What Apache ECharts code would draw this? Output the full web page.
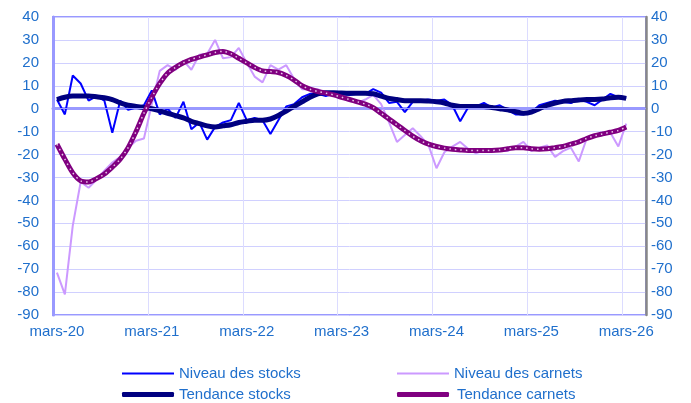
<!DOCTYPE html>
<html><head><meta charset="utf-8">
<script src="https://cdn.jsdelivr.net/npm/echarts@6/dist/echarts.min.js"></script>
<style>html,body{margin:0;padding:0;background:#fff}#c{width:691px;height:403px}</style>
</head><body><div id="c"></div>
<script>
const categories = [
 'mars-20','avr.-20','mai-20','juin-20','juil.-20','août-20','sept.-20','oct.-20','nov.-20','déc.-20','janv.-21','févr.-21',
 'mars-21','avr.-21','mai-21','juin-21','juil.-21','août-21','sept.-21','oct.-21','nov.-21','déc.-21','janv.-22','févr.-22',
 'mars-22','avr.-22','mai-22','juin-22','juil.-22','août-22','sept.-22','oct.-22','nov.-22','déc.-22','janv.-23','févr.-23',
 'mars-23','avr.-23','mai-23','juin-23','juil.-23','août-23','sept.-23','oct.-23','nov.-23','déc.-23','janv.-24','févr.-24',
 'mars-24','avr.-24','mai-24','juin-24','juil.-24','août-24','sept.-24','oct.-24','nov.-24','déc.-24','janv.-25','févr.-25',
 'mars-25','avr.-25','mai-25','juin-25','juil.-25','août-25','sept.-25','oct.-25','nov.-25','déc.-25','janv.-26','févr.-26',
 'mars-26','avr.-26','mai-26'
];
const niveauStocks = [4,-2.5,14.5,11,3.5,5.5,3.5,-10.5,3.5,-0.5,0.5,1.5,
 8,-2.5,0,-4,3,-9,-6,-13.5,-8,-6,-5,2.5,
 -5,-4,-5,-11,-5,1,2,5,6.5,6.5,5.5,6.5,
 6.5,6,6.5,6.5,8.5,7,2.5,3,-1.5,3,3.5,4,
 3.5,4,1.5,-5.5,0.5,1,2.5,0.5,1.5,-0.5,-2.5,-2.5,
 -1.5,1.5,2.5,3.5,3,2.5,4,3,1.5,4,6.5,5,4.5];
const niveauCarnets = [-71.5,-81,-51,-32,-34.5,-31,-27,-23.5,-21,-17,-14,-13,
 2,16.5,19,17,21,17,23.5,24,30,22,22.5,26.5,
 20,14,11.5,19,17,19,13,8.5,8.5,8.5,6.5,5.5,
 4.5,3.5,2.5,4,6,2,-6,-14.5,-11.5,-8.5,-12,-16,
 -26,-19,-16.5,-14.5,-17.5,-19.5,-18,-18,-18.5,-18.5,-16.5,-14.5,
 -18.5,-17,-16,-21,-18.5,-17,-23,-13,-11.5,-11,-10.5,-16.5,-6.5];
const tendanceStocks = [4,5,5.5,5.5,5.5,5.2,4.8,4,2.5,1.5,1,0.5,
 0,-1,-2,-3,-4,-5.5,-6.5,-7.5,-8,-7.5,-7,-6,
 -5.5,-5,-5,-4.5,-3,-1,1,3,5,6.5,7,7,
 6.8,6.7,6.7,6.7,6.5,5.5,4.5,4,3.5,3.5,3.5,3.3,
 3,2.5,1.5,1,1,1,1,0.5,0,-0.5,-1.3,-2,
 -1.5,0,1.5,2.5,3.2,3.5,3.8,4,4,4.2,4.8,5,4.5];
const tendanceCarnets = [-15.5,-22,-28,-31.5,-32,-30.5,-28.5,-25.5,-22,-17,-10,-2,
 5,11,15.5,18,20,21.5,22.5,23.5,24.5,25,24,22,
 20,18,16.5,16.2,15.8,14.5,12.5,10,8.5,7.5,6.8,6,
 5,4,3,2,0.5,-2,-4.5,-7,-9.5,-12,-14,-15.5,
 -16.5,-17.2,-17.7,-18,-18.2,-18.2,-18.2,-18.2,-18,-17.5,-17,-17,
 -17.5,-17.7,-17.5,-17,-16.5,-15.5,-14.5,-13,-11.8,-11,-10.3,-9.5,-8];
const yTicks = {min:-90, max:40, step:10};

const FONT = 'Liberation Sans';
const TXT = '#1F6FCC';
function leg(name, left, top, h, icon, pad){
  return {left:left, top:top, itemWidth:52, itemHeight:h, icon:icon, itemGap:0,
    selectedMode:false, textStyle:{color:TXT,fontFamily:FONT,fontSize:15,padding:[0,0,0,pad]},
    data:[name]};
}
const chart = echarts.init(document.getElementById('c'));
chart.setOption({
  animation:false,
  backgroundColor:'#fff',
  grid:{left:53,right:45,top:17,bottom:88,show:true,borderColor:'#9999FF',borderWidth:2},
  xAxis:{type:'category',data:categories,boundaryGap:true,
    axisLine:{lineStyle:{color:'#9999FF',width:3}},
    axisTick:{show:false},
    axisLabel:{interval:11,color:TXT,fontFamily:FONT,fontSize:15,margin:9},
    splitLine:{show:true,interval:11,lineStyle:{color:'#DCDCFF',width:1}}},
  yAxis:[
    {type:'value',min:yTicks.min,max:yTicks.max,interval:yTicks.step,position:'left',
     axisLine:{show:true,lineStyle:{color:'#9999FF',width:3}},axisTick:{show:false},
     axisLabel:{color:TXT,fontFamily:FONT,fontSize:15,margin:14},
     splitLine:{lineStyle:{color:'#D0D0FF',width:1}}},
    {type:'value',min:yTicks.min,max:yTicks.max,interval:yTicks.step,position:'right',
     axisLine:{show:true,lineStyle:{color:'#888888',width:2.5}},axisTick:{show:false},
     axisLabel:{color:TXT,fontFamily:FONT,fontSize:15,margin:5},
     splitLine:{show:false},z:3}
  ],
  legend:[
    leg('Niveau des stocks',117,361,2,'rect',0),
    leg('Tendance stocks',117,382,5,'roundRect',0),
    leg('Niveau des carnets',392,361,2,'rect',0),
    leg('Tendance carnets',392,382,5,'roundRect',3)
  ],
  series:[
    {name:'Niveau des carnets',type:'line',data:niveauCarnets,symbol:'none',
     lineStyle:{color:'#CC99FF',width:2},itemStyle:{color:'#CC99FF'},z:2,
     markLine:{silent:true,symbol:'none',label:{show:false},
       lineStyle:{color:'#9999FF',width:1,type:'solid'},data:[{yAxis:0}]}},
    {name:'Niveau des stocks',type:'line',data:niveauStocks,symbol:'none',
     lineStyle:{color:'#0000FF',width:2},itemStyle:{color:'#0000FF'},z:3},
    {name:'Tendance stocks',type:'line',data:tendanceStocks,symbol:'none',smooth:0.3,
     lineStyle:{color:'#000080',width:5},itemStyle:{color:'#000080'},z:4},
    {name:'Tendance carnets',type:'line',data:tendanceCarnets,symbol:'none',smooth:0.3,
     lineStyle:{color:'#800080',width:5},itemStyle:{color:'#800080'},z:5},
    {name:'tc-dots',type:'line',data:tendanceCarnets,symbol:'none',smooth:0.3,
     lineStyle:{color:'#E8C8E8',width:1.5,type:[1.5,4]},z:6,silent:true}
  ]
});
</script></body></html>
